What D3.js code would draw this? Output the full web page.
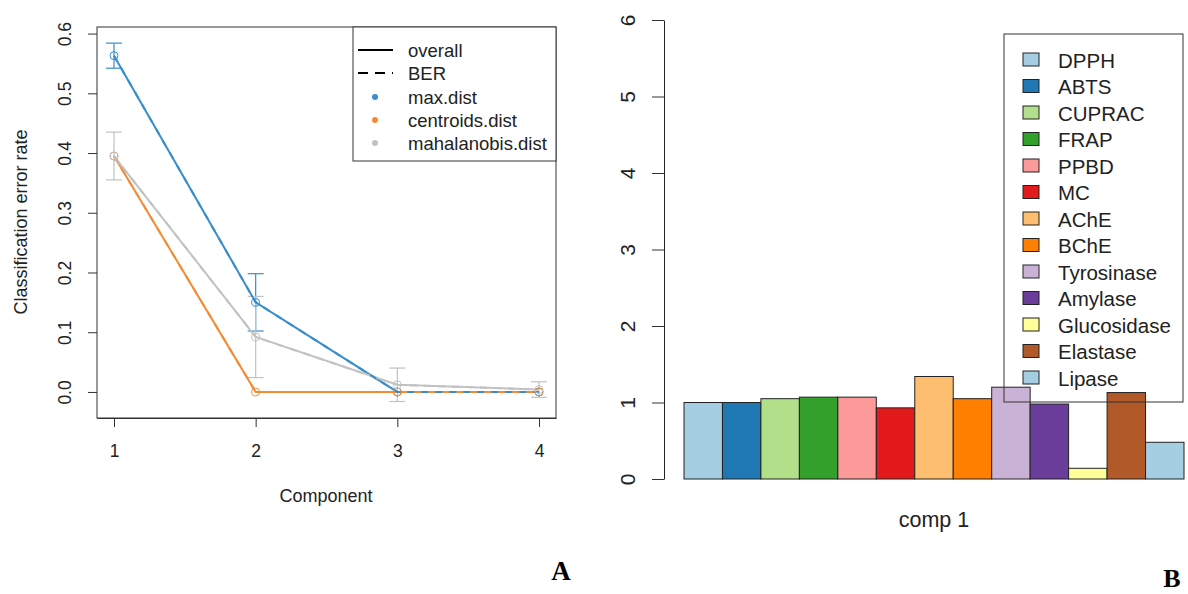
<!DOCTYPE html>
<html>
<head>
<meta charset="utf-8">
<script src="https://cdn.jsdelivr.net/npm/d3@7"></script>
<style>
  body { margin: 0; background: #fff; }
  text { font-family: "Liberation Sans", Arial, sans-serif; fill: #222; }
</style>
</head>
<body>
<script>
// ---- data: panel A (classification error rate per component)
var components = [1, 2, 3, 4];
var maxDistOverall = [0.563, 0.150, 0.000, 0.000];
var maxDistBER = [0.563, 0.150, 0.000, 0.000];
var maxDistSd = [0.021, 0.048, 0, 0];
var centroidsOverall = [0.395, 0.000, 0.000, 0.000];
var centroidsBER = [0.395, 0.000, 0.000, 0.000];
var centroidsSd = [0, 0, 0, 0];
var mahalOverall = [0.395, 0.092, 0.012, 0.004];
var mahalBER = [0.395, 0.092, 0.012, 0.004];
var mahalSd = [0.040, 0.068, 0.028, 0.013];
var yTicksA = [0, 0.1, 0.2, 0.3, 0.4, 0.5, 0.6];

// ---- data: panel B (loadings on comp 1)
var assays = ["DPPH", "ABTS", "CUPRAC", "FRAP", "PPBD", "MC", "AChE", "BChE",
  "Tyrosinase", "Amylase", "Glucosidase", "Elastase", "Lipase"];
var comp1Values = [1.00, 1.00, 1.05, 1.07, 1.07, 0.93, 1.34, 1.05, 1.20, 0.98, 0.14, 1.13, 0.48];
var assayColors = ["#A6CEE3", "#1F78B4", "#B2DF8A", "#33A02C", "#FB9A99", "#E31A1C",
  "#FDBF6F", "#FF7F00", "#CAB2D6", "#6A3D9A", "#FFFF99", "#B15928", "#A6CEE3"];
var yTicksB = [0, 1, 2, 3, 4, 5, 6];

var svg = d3.select("body").append("svg")
  .attr("width", 1188).attr("height", 594);

// ================= Panel A =================
var xA = d3.scaleLinear().domain([0.88, 4.12]).range([97, 556]);
var yA = d3.scaleLinear().domain([-0.0436, 0.611]).range([418, 27]);

var series = [
  {name: "max.dist", color: "#388ECC", overall: maxDistOverall, ber: maxDistBER, sd: maxDistSd},
  {name: "centroids.dist", color: "#F68B33", overall: centroidsOverall, ber: centroidsBER, sd: centroidsSd},
  {name: "mahalanobis.dist", color: "#C2C2C2", overall: mahalOverall, ber: mahalBER, sd: mahalSd}
];

var gA = svg.append("g");

// axes
gA.append("g")
  .attr("transform", "translate(97,0)")
  .call(d3.axisLeft(yA).tickValues(yTicksA).tickSize(9).tickPadding(0).tickFormat(d3.format(".1f")))
  .call(g => g.select(".domain").remove())
  .call(g => g.selectAll("line").attr("stroke", "#333"))
  .call(g => g.selectAll("text")
    .attr("font-size", 17.5)
    .attr("text-anchor", "middle")
    .attr("x", 0).attr("dy", 0)
    .attr("transform", "translate(-26,0) rotate(-90)"));

gA.append("g")
  .attr("transform", "translate(0,418)")
  .call(d3.axisBottom(xA).tickValues(components).tickSize(9).tickSizeOuter(0).tickPadding(18).tickFormat(d3.format("d")))
  .call(g => g.select(".domain").attr("stroke", "#333"))
  .call(g => g.selectAll("line").attr("stroke", "#333"))
  .call(g => g.selectAll("text").attr("font-size", 17.5));

gA.append("rect")
  .attr("x", 97).attr("y", 27).attr("width", 459).attr("height", 391)
  .attr("fill", "none").attr("stroke", "#333");

gA.append("text")
  .attr("x", 326).attr("y", 502)
  .attr("text-anchor", "middle").attr("font-size", 18)
  .text("Component");

gA.append("text")
  .attr("transform", "translate(27,222) rotate(-90)")
  .attr("text-anchor", "middle").attr("font-size", 18)
  .text("Classification error rate");

// error bars
series.forEach(function(s) {
  var eb = gA.append("g").attr("stroke", s.color).attr("stroke-width", 1.2);
  components.forEach(function(c, i) {
    if (s.sd[i] <= 0) return;
    var lo = yA(s.overall[i] - s.sd[i]), hi = yA(s.overall[i] + s.sd[i]), cx = xA(c);
    eb.append("line").attr("x1", cx).attr("x2", cx).attr("y1", lo).attr("y2", hi);
    eb.append("line").attr("x1", cx - 8).attr("x2", cx + 8).attr("y1", lo).attr("y2", lo);
    eb.append("line").attr("x1", cx - 8).attr("x2", cx + 8).attr("y1", hi).attr("y2", hi);
  });
});

var lineA = function(vals) {
  return d3.line().x((d, i) => xA(components[i])).y(d => yA(d))(vals);
};

// overall (solid) then BER (dashed)
series.forEach(function(s) {
  gA.append("path").attr("d", lineA(s.overall))
    .attr("fill", "none").attr("stroke", s.color).attr("stroke-width", 2);
});
[series[1], series[2], series[0]].forEach(function(s) {
  gA.append("path").attr("d", lineA(s.ber))
    .attr("fill", "none").attr("stroke", s.color).attr("stroke-width", 2)
    .attr("stroke-dasharray", "7,7");
});

// open circles
series.forEach(function(s) {
  gA.append("g").selectAll("circle")
    .data(s.overall).enter().append("circle")
    .attr("cx", (d, i) => xA(components[i]))
    .attr("cy", d => yA(d))
    .attr("r", 4)
    .attr("fill", "none").attr("stroke", s.color).attr("stroke-width", 1);
});

// legend A
var legA = gA.append("g");
legA.append("rect")
  .attr("x", 353).attr("y", 27).attr("width", 203).attr("height", 134)
  .attr("fill", "#fff").attr("stroke", "#333");
legA.append("line").attr("x1", 358).attr("x2", 393).attr("y1", 50).attr("y2", 50)
  .attr("stroke", "#000").attr("stroke-width", 2);
legA.append("line").attr("x1", 358).attr("x2", 393).attr("y1", 73).attr("y2", 73)
  .attr("stroke", "#000").attr("stroke-width", 2).attr("stroke-dasharray", "10,7");
legA.append("text").attr("x", 408).attr("y", 57).attr("font-size", 18.5).text("overall");
legA.append("text").attr("x", 408).attr("y", 80).attr("font-size", 18.5).text("BER");
series.forEach(function(s, i) {
  var yy = 97 + i * 23;
  legA.append("circle").attr("cx", 375).attr("cy", yy).attr("r", 3).attr("fill", s.color);
  legA.append("text").attr("x", 408).attr("y", yy + 7).attr("font-size", 18.5).text(s.name);
});

// ================= Panel B =================
var xB = d3.scaleBand().domain(assays).range([684, 1184]).padding(0);
var yB = d3.scaleLinear().domain([0, 6]).range([479, 20]);

var gB = svg.append("g");

gB.append("g")
  .attr("transform", "translate(664,0)")
  .call(d3.axisLeft(yB).tickValues(yTicksB).tickSize(12).tickSizeOuter(0).tickPadding(0).tickFormat(d3.format("d")))
  .call(g => g.select(".domain").attr("stroke", "#222"))
  .call(g => g.selectAll("line").attr("stroke", "#333"))
  .call(g => g.selectAll("text")
    .attr("font-size", 21)
    .attr("text-anchor", "middle")
    .attr("x", 0).attr("dy", 0)
    .attr("transform", "translate(-29,0) rotate(-90)"));

gB.selectAll("rect.bar")
  .data(comp1Values).enter().append("rect")
  .attr("class", "bar")
  .attr("x", (d, i) => xB(assays[i]))
  .attr("y", d => yB(d))
  .attr("width", xB.bandwidth())
  .attr("height", d => yB(0) - yB(d))
  .attr("fill", (d, i) => assayColors[i])
  .attr("stroke", "#222").attr("stroke-width", 1);

gB.append("text")
  .attr("x", (684 + 1184) / 2).attr("y", 527)
  .attr("text-anchor", "middle").attr("font-size", 21.5)
  .text("comp 1");

// legend B
var legB = gB.append("g");
legB.append("rect")
  .attr("x", 1004).attr("y", 34).attr("width", 179).attr("height", 368)
  .attr("fill", "none").attr("stroke", "#333");
assays.forEach(function(a, i) {
  var yy = 60 + i * 26.5;
  legB.append("rect").attr("x", 1023).attr("y", yy - 7).attr("width", 16).attr("height", 13)
    .attr("fill", assayColors[i]).attr("stroke", "#222");
  legB.append("text").attr("x", 1058).attr("y", yy + 7.5).attr("font-size", 20.5).text(a);
});

// panel letters
svg.append("text").attr("x", 561).attr("y", 580)
  .attr("text-anchor", "middle").attr("font-size", 27).attr("font-weight", "bold")
  .style("font-family", "'Liberation Serif', 'Times New Roman', serif").style("fill", "#000")
  .text("A");
svg.append("text").attr("x", 1172).attr("y", 587)
  .attr("text-anchor", "middle").attr("font-size", 26).attr("font-weight", "bold")
  .style("font-family", "'Liberation Serif', 'Times New Roman', serif").style("fill", "#000")
  .text("B");
</script>
</body>
</html>
